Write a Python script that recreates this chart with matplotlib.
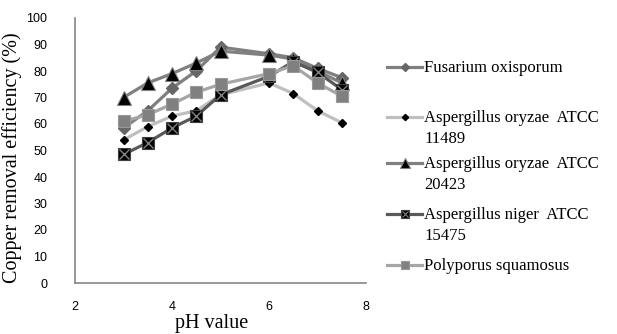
import matplotlib
matplotlib.use("Agg")
import matplotlib.pyplot as plt
from matplotlib.lines import Line2D

# pH values and copper removal (%)
ph = [3, 3.5, 4, 4.5, 5, 6, 6.5, 7, 7.5]
fusarium = [58.5, 65, 73.5, 80, 89, 86.5, 85, 81, 77.5]
ao_11489 = [54, 59, 63, 65, 71, 75.5, 71.5, 65, 60.5]
ao_20423 = [70, 75.5, 79, 83, 87.5, 86, 84.5, 80, 75.5]
niger = [48.5, 53, 58.5, 63, 71, 78, 83.5, 79.5, 73]
polyporus = [61, 63.5, 67.5, 72, 75, 79, 82, 75.5, 70.5]

labels = ["Fusarium oxisporum",
          "Aspergillus oryzae  ATCC\n11489",
          "Aspergillus oryzae  ATCC\n20423",
          "Aspergillus niger  ATCC\n15475",
          "Polyporus squamosus"]
xticks = [2, 4, 6, 8]
yticks = list(range(0, 101, 10))

W, H = 617, 334
fig = plt.figure(figsize=(W / 100, H / 100), dpi=100)
ax = fig.add_axes([75 / W, 51 / H, 291 / W, 265 / H])

lw = 2.3
styles = [
    dict(color="#7f7f7f", marker="D", ms=6, mfc="#666666", mec="#666666"),
    dict(color="#bfbfbf", marker="D", ms=4.5, mfc="black", mec="black"),
    dict(color="#808080", marker="^", ms=10, mfc="black", mec="#808080", mew=0.8),
    dict(color="#595959", marker="s", ms=8, mfc="black", mec="#404040", mew=0.8),
    dict(color="#a6a6a6", marker="s", ms=8, mfc="#808080", mec="#999999", mew=0.8),
]
series = [fusarium, ao_11489, ao_20423, niger, polyporus]

for i, (vals, st) in enumerate(zip(series, styles)):
    ax.plot(ph, vals, lw=lw, **st)
    if i == 3:
        ax.plot(ph, vals, ls="none", marker="x", ms=7, mec="#7f7f7f", mew=1.0)

ax.set_xlim(2, 8)
ax.set_ylim(0, 100)
ax.set_xticks(xticks)
ax.set_yticks(yticks)
ax.tick_params(length=0, labelsize=9)
ax.tick_params(axis="y", pad=20)
ax.tick_params(axis="x", pad=13)
for t in ax.get_xticklabels() + ax.get_yticklabels():
    t.set_fontfamily("Liberation Sans")

for s in ["top", "right"]:
    ax.spines[s].set_visible(False)
for s in ["left", "bottom"]:
    ax.spines[s].set_color("#868686")
    ax.spines[s].set_linewidth(1.2)

ax.set_xlabel("pH value", fontfamily="Liberation Serif", fontsize=14.5)
ax.xaxis.set_label_coords(212 / W, 1 - 314 / H, transform=fig.transFigure)
ax.set_ylabel("Copper removal efficiency (%)", fontfamily="Liberation Serif",
              fontsize=14.5)
ax.yaxis.set_label_coords(22 / W, 1 - 158 / H, transform=fig.transFigure)

# legend drawn by hand: handle sits on the first text line, like Excel
first_line_y = [67, 117, 163, 214, 265]
for i, (lab, st, yy) in enumerate(zip(labels, styles, first_line_y)):
    y = 1 - yy / H
    fig.add_artist(Line2D([387 / W, 422 / W], [y, y], lw=lw,
                          color=st["color"], transform=fig.transFigure))
    mk = {k: v for k, v in st.items() if k != "color"}
    mk["ms"] = st["ms"] * 0.7
    fig.add_artist(Line2D([404.5 / W], [y], ls="none",
                          transform=fig.transFigure, **mk))
    if i == 3:
        fig.add_artist(Line2D([404.5 / W], [y], ls="none", marker="x", ms=5,
                              mec="#7f7f7f", mew=0.8, transform=fig.transFigure))
    for j, line in enumerate(lab.split("\n")):
        fig.text(424 / W, 1 - (yy + 5 + 21 * j) / H, line, ha="left",
                 va="baseline", fontfamily="Liberation Serif", fontsize=12)

fig.savefig("out.png", dpi=100)
